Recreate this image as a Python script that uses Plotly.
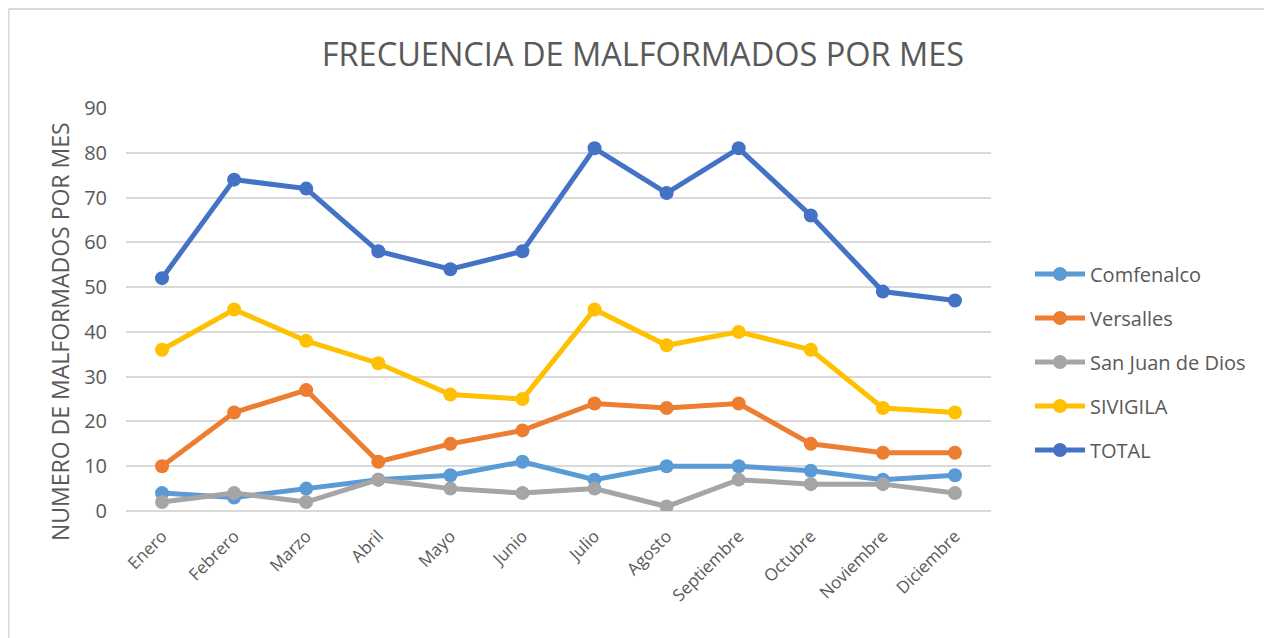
import plotly.graph_objects as go

meses = ["Enero", "Febrero", "Marzo", "Abril", "Mayo", "Junio", "Julio",
         "Agosto", "Septiembre", "Octubre", "Noviembre", "Diciembre"]
comfenalco = [4, 3, 5, 7, 8, 11, 7, 10, 10, 9, 7, 8]
versalles = [10, 22, 27, 11, 15, 18, 24, 23, 24, 15, 13, 13]
san_juan = [2, 4, 2, 7, 5, 4, 5, 1, 7, 6, 6, 4]
sivigila = [36, 45, 38, 33, 26, 25, 45, 37, 40, 36, 23, 22]
total = [52, 74, 72, 58, 54, 58, 81, 71, 81, 66, 49, 47]

series = [
    ("Comfenalco", comfenalco, "#5B9BD5"),
    ("Versalles", versalles, "#ED7D31"),
    ("San Juan de Dios", san_juan, "#A5A5A5"),
    ("SIVIGILA", sivigila, "#FFC000"),
    ("TOTAL", total, "#4472C4"),
]

FONT = "Open Sans"
TXT = "#595959"

fig = go.Figure()
for i, (name, vals, col) in enumerate(series):
    fig.add_trace(go.Scatter(
        x=meses, y=vals, name=name, mode="lines+markers",
        line=dict(color=col, width=5),
        marker=dict(color=col, size=14),
        legendgroup=str(i),
    ))

# page body has an 8px margin: work in screen coords and shift by OFF
OFF = 8
W, H = 1272 - OFF, 638 - OFF
L, R, T, B = 126 - OFF, 1272 - 991, 108 - OFF, 638 - 511
pw, ph = W - L - R, H - T - B


def px(x):
    return (x - OFF - L) / pw


def py(y):
    return (H - B - (y - OFF)) / ph


border = dict(color="#D9D9D9", width=2)

fig.update_layout(
    width=W, height=H,
    margin=dict(l=L, r=R, t=T, b=B),
    paper_bgcolor="white", plot_bgcolor="white",
    title=dict(text="FRECUENCIA DE MALFORMADOS POR MES",
               x=(643 - OFF) / W, xanchor="center", y=1 - (55 - OFF) / H, yanchor="middle",
               font=dict(family=FONT, size=32.5, color=TXT)),
    font=dict(family=FONT, color=TXT),
    showlegend=True,
    legend=dict(x=px(1030), xanchor="left", y=py(362), yanchor="middle",
                font=dict(family=FONT, size=20, color=TXT),
                tracegroupgap=15, itemwidth=50,
                bgcolor="rgba(0,0,0,0)"),
    xaxis=dict(
        tickangle=-45, tickfont=dict(family=FONT, size=17, color=TXT),
        showgrid=False, showline=False, ticks="", ticklabelstandoff=11,
        range=[-0.5, 11.5],
    ),
    yaxis=dict(
        range=[0, 90], dtick=10,
        tickfont=dict(family=FONT, size=20, color=TXT),
        showgrid=True, gridcolor="#D9D9D9", gridwidth=1.5,
        zeroline=True, zerolinecolor="#D9D9D9", zerolinewidth=1.5,
        showline=False, ticks="", ticklabelstandoff=18,
    ),
    annotations=[dict(text="NUMERO DE MALFORMADOS POR MES", textangle=-90,
                      xref="paper", yref="paper", x=px(60), y=py(332),
                      xanchor="center", yanchor="middle", showarrow=False,
                      font=dict(family=FONT, size=23, color=TXT))],
    shapes=[
        dict(type="line", xref="paper", yref="paper",
             x0=px(8.5), x1=px(1280), y0=py(9), y1=py(9), line=border),
        dict(type="line", xref="paper", yref="paper",
             x0=px(8.5), x1=px(8.5), y0=py(9), y1=py(650), line=border),
    ],
)

fig.write_html("out.html")
